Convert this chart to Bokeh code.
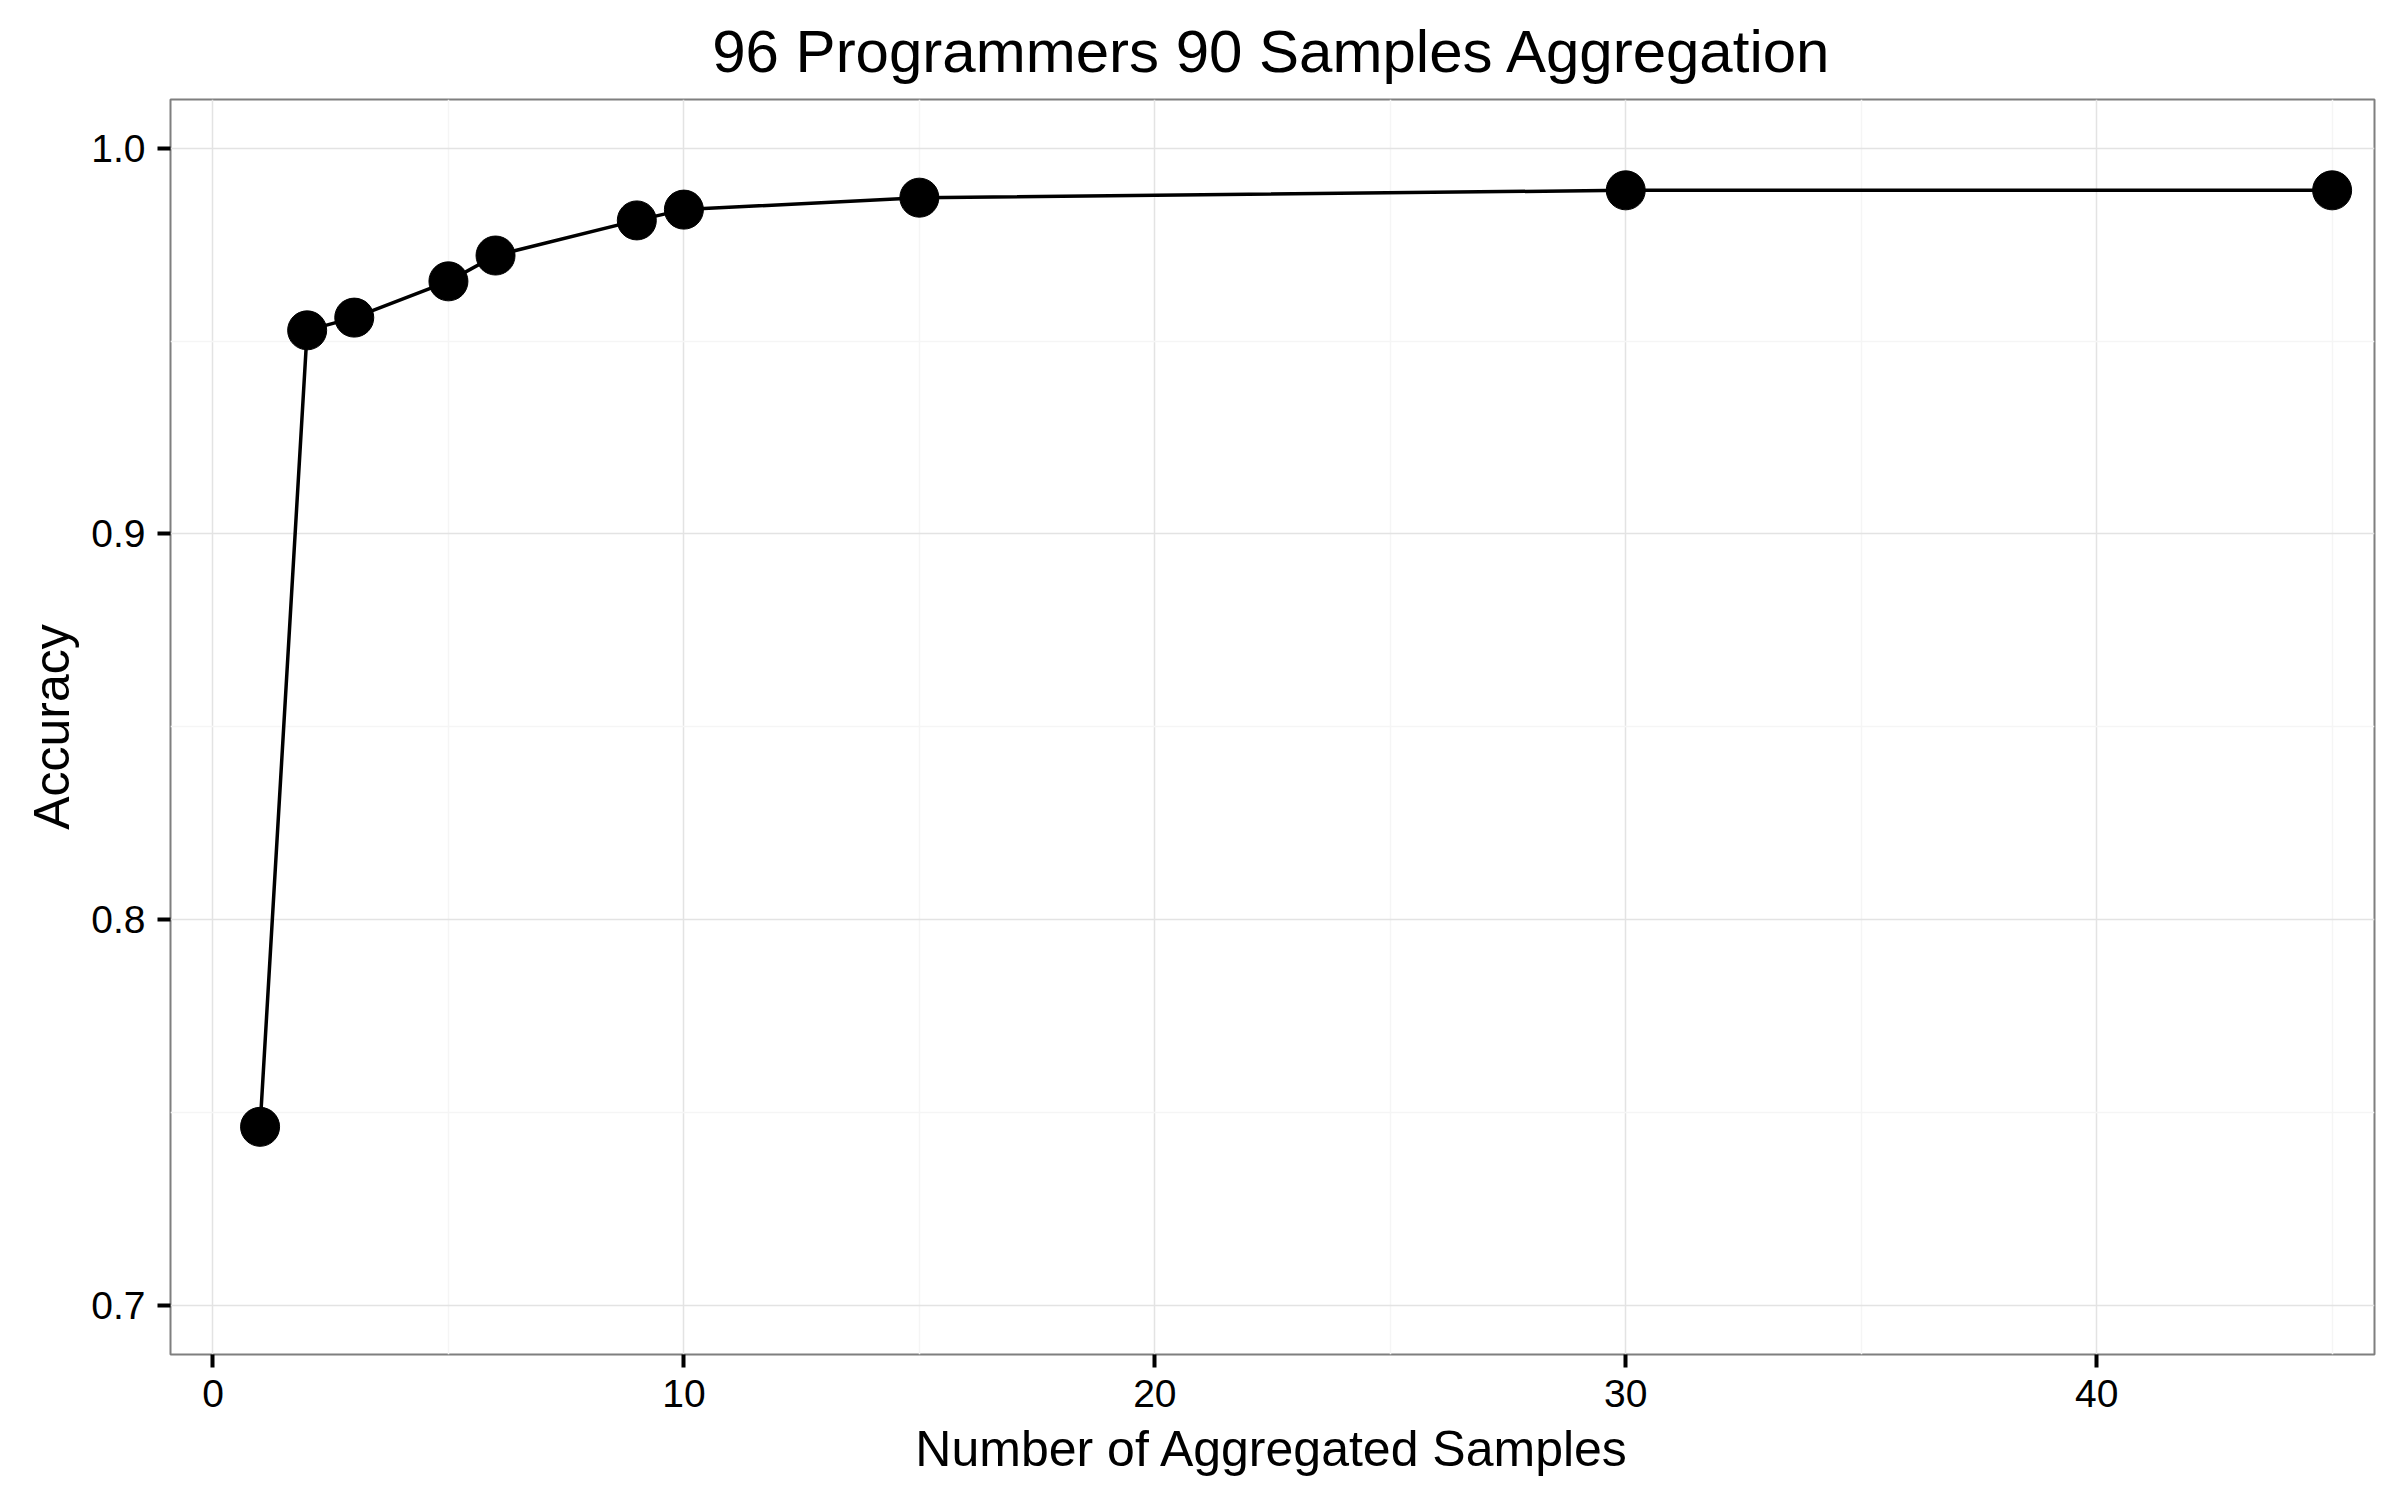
from bokeh.plotting import figure
from bokeh.models import Range1d, FixedTicker, NumeralTickFormatter
from bokeh.embed import file_html
from bokeh.resources import INLINE

# Accuracy as a function of how many samples are aggregated per programmer
samples = [1, 2, 3, 5, 6, 9, 10, 15, 30, 45]
accuracy = [0.7463, 0.9528, 0.9561, 0.9655, 0.9722, 0.9813, 0.9841, 0.9872, 0.9891, 0.9891]

x_ticks = [0, 10, 20, 30, 40]
x_minor = [5, 15, 25, 35, 45]
y_ticks = [0.7, 0.8, 0.9, 1.0]
y_minor = [0.75, 0.85, 0.95]

FONT = "Liberation Sans"

p = figure(
    width=2400, height=1500,
    output_backend="svg", toolbar_location=None,
    x_range=Range1d(-0.902, 45.90), y_range=Range1d(0.68727, 1.01265),
    min_border_left=170, min_border_right=26,
    min_border_top=99, min_border_bottom=146,
    title="96 Programmers 90 Samples Aggregation",
)
p.background_fill_color = "white"
p.border_fill_color = "white"
p.outline_line_color = "#7f7f7f"
p.outline_line_width = 2

p.title.align = "center"
p.title.text_font = FONT
p.title.text_font_size = "60px"
p.title.text_font_style = "normal"
p.title.text_color = "black"
p.title.standoff = 30

p.xaxis.ticker = FixedTicker(ticks=x_ticks, minor_ticks=x_minor)
p.yaxis.ticker = FixedTicker(ticks=y_ticks, minor_ticks=y_minor)
p.yaxis.formatter = NumeralTickFormatter(format="0.0")

p.xaxis.axis_label = "Number of Aggregated Samples"
p.yaxis.axis_label = "Accuracy"

for ax in (p.xaxis, p.yaxis):
    ax.axis_line_color = None
    ax.major_tick_line_color = "black"
    ax.major_tick_line_width = 4
    ax.major_tick_out = 13
    ax.major_tick_in = 0
    ax.minor_tick_out = 0
    ax.minor_tick_in = 0
    ax.major_label_text_font = FONT
    ax.major_label_text_font_size = "39px"
    ax.major_label_text_color = "black"
    ax.major_label_standoff = 12
    ax.axis_label_text_font = FONT
    ax.axis_label_text_font_size = "50px"
    ax.axis_label_text_font_style = "normal"
    ax.axis_label_text_color = "black"

p.xaxis.axis_label_standoff = 11
p.yaxis.axis_label_standoff = 8

for g in (p.xgrid, p.ygrid):
    g.grid_line_color = "#e3e3e3"
    g.grid_line_width = 1.5
    g.minor_grid_line_color = "#f5f5f5"
    g.minor_grid_line_width = 1.5

p.line(samples, accuracy, line_color="black", line_width=3.5)
p.scatter(samples, accuracy, size=39, fill_color="black", line_color="black")

open("out.html", "w").write(file_html(p, INLINE))
